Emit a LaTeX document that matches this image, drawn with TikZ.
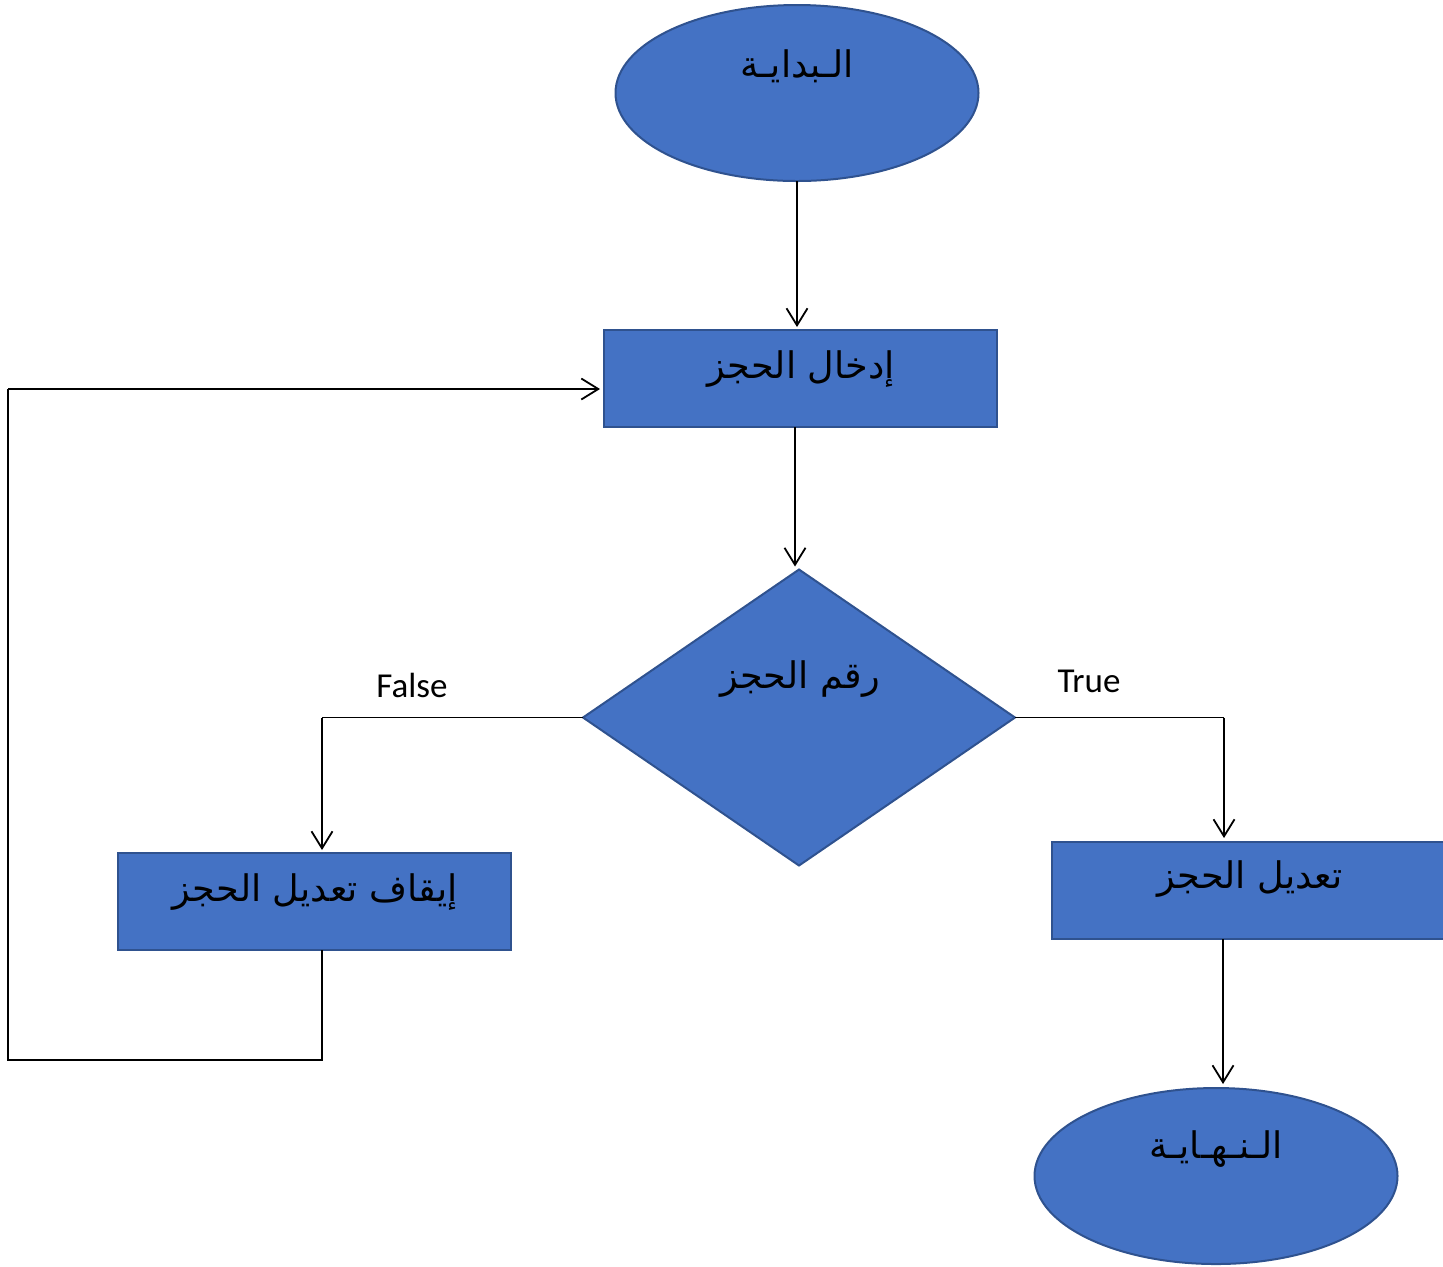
\documentclass[tikz,border=0pt]{standalone}
\usepackage{fontspec}
\setmainfont{Carlito}
\newfontfamily\arabicfont[Script=Arabic]{DejaVu Sans}
\TeXXeTstate=1
\usetikzlibrary{shapes.geometric,arrows.meta}
\definecolor{boxfill}{HTML}{4472C4}
\definecolor{boxline}{HTML}{2F528F}
\begin{document}
\begin{tikzpicture}[x=0.5pt,y=-0.5pt,
  shapebox/.style={fill=boxfill,draw=boxline,line width=1pt,inner sep=0pt,outer sep=0pt},
  terminal/.style={shapebox,ellipse,minimum width=181.5pt,minimum height=88pt},
  process/.style={shapebox,rectangle,minimum width=196.5pt,minimum height=48.5pt},
  decision/.style={shapebox,diamond,minimum width=216pt,minimum height=148pt},
  artext/.style={font=\arabicfont\fontsize{18.3}{20}\selectfont,text=black,inner sep=0pt},
  branchlabel/.style={font=\fontsize{17.5}{20}\selectfont,text=black,inner sep=0pt},
  flow/.style={line width=0.9pt,draw=black,-{Straight Barb[length=8.5pt,width=10.5pt,line width=0.9pt]}},
  link/.style={line width=0.9pt,draw=black}]
\useasboundingbox (0,0) rectangle (1443,1266);

% shapes
\node[terminal] (start) at (797,93) {};
\node[process] (input) at (800.5,378.5) {};
\node[decision] (check) at (799,717.5) {};
\node[process] (stop) at (314.5,901.5) {};
\node[process] (modify) at (1248,890.5) {};
\node[terminal] (finish) at (1216,1176) {};

% texts
\node[artext] (tstart) at (797,66) {\beginR الـبدايـة\endR};
\node[artext] (tinput) at (801,369) {\beginR إدخال الحجز\endR};
\node[artext] (tcheck) at (800,679) {\beginR رقم الحجز\endR};
\node[artext] (tstop) at (315,892) {\beginR إيقاف تعديل الحجز\endR};
\node[artext] (tmodify) at (1250,879) {\beginR تعديل الحجز\endR};
\node[artext] (tfinish) at (1216,1149) {\beginR الـنـهـايـة\endR};

\node[branchlabel] (lfalse) at (412,685) {False};
\node[branchlabel] (ltrue) at (1089,681) {True};

% turning points
\coordinate (fl) at (322,717.5);
\coordinate (tr) at (1224,717.5);
\coordinate (dn) at (795,0);
\coordinate (lb) at (322,1060);
\coordinate (ll) at (8,1060);
\coordinate (lt) at (8,389);

% connectors
\draw[flow] (start.south) -- ([yshift=1.5pt]start.south |- input.north);
\draw[flow] (input.south -| dn) -- ([yshift=1.5pt]check.north -| dn);
\draw[link] (check.west) -- (fl);
\draw[flow] (fl) -- ([yshift=1.5pt]fl |- stop.north);
\draw[link] (check.east) -- (tr);
\draw[flow] (tr) -- ([yshift=2pt]tr |- modify.north);
\draw[flow] (modify.south -| 1223,0) -- ([yshift=2pt]1223,0 |- finish.north);
\draw[link] (stop.south -| lb) -- (lb) -- (ll) -- (lt);
\draw[flow] (lt) -- ([xshift=-2pt]input.west |- lt);
\end{tikzpicture}
\end{document}
